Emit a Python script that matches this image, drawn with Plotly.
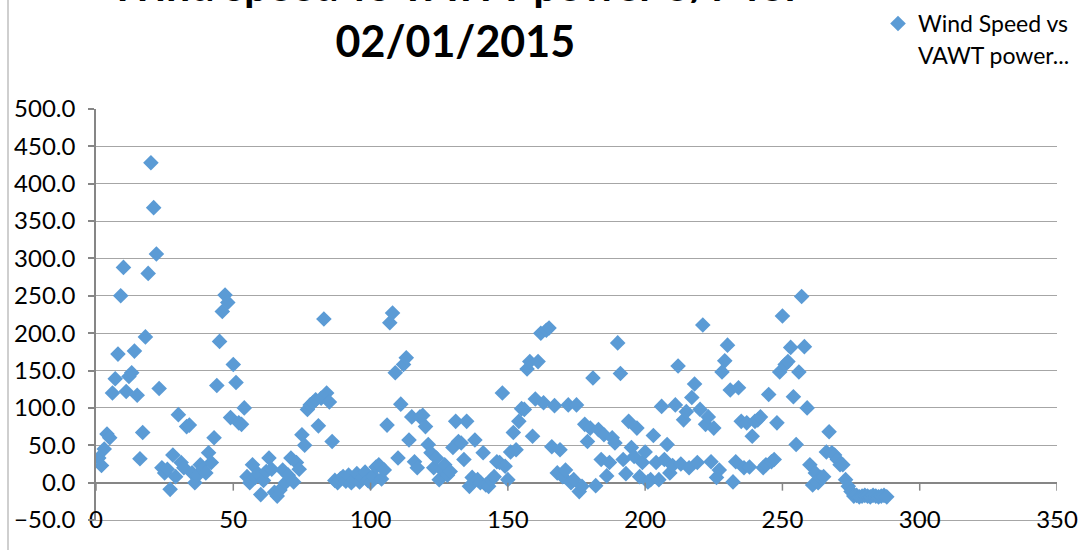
import plotly.graph_objects as go

# ---- data ----
title_lines = ["Wind speed vs VAWT power 8/7 for", "02/01/2015"]
legend_line1 = "Wind Speed vs"
legend_line2 = "VAWT power..."
power = [
    33, 23, 45, 65, 60, 120, 139, 172, 250, 288,
    122, 142, 147, 176, 117, 32, 67, 195, 280, 428,
    368, 306, 126, 20, 13, 18, -9, 37, 8, 91,
    27, 20, 75, 77, 13, 0, 10, 24, 18, 13,
    40, 27, 60, 130, 189, 229, 251, 241, 87, 158,
    134, 80, 78, 100, 8, 0, 24, 7, 12, -16,
    3, 15, 33, 18, -13, -18, -10, 17, 0, 10,
    33, 1, 27, 18, 64, 50, 98, 104, 107, 111,
    76, 113, 219, 120, 108, 55, 3, 0, 5, 8,
    2, 10, 0, 4, 12, 1, 7, 14, 3, 0,
    9, 21, 24, 5, 17, 77, 214, 227, 147, 33,
    105, 158, 167, 57, 88, 28, 20, 88, 90, 75,
    51, 40, 20, 33, 4, 17, 24, 10, 15, 47,
    82, 55, 53, 31, 82, -5, 7, 57, 4, 0,
    40, -3, -5, 4, 8, 28, 27, 120, 22, 4,
    41, 67, 44, 82, 99, 98, 152, 162, 62, 112,
    162, 200, 107, 204, 207, 48, 103, 13, 44, 8,
    17, 104, 0, 4, 104, -12, -5, 78, 55, 73,
    140, -4, 71, 31, 64, 9, 27, 60, 53, 187,
    146, 31, 12, 82, 47, 35, 73, 8, 27, 41,
    1, 4, 63, 27, 4, 102, 31, 51, 13, 23,
    104, 156, 25, 84, 95, 20, 114, 132, 27, 98,
    211, 78, 88, 28, 73, 7, 17, 148, 163, 184,
    124, 1, 28, 127, 82, 20, 80, 21, 62, 82,
    84, 88, 20, 24, 118, 28, 31, 80, 148, 223,
    158, 162, 181, 115, 51, 148, 249, 182, 100, 24,
    -3, 13, 0, 7, 8, 41, 68, 40, 37, 31,
    24, 24, 4, -5, -12, -18, -17, -19, -18, -17,
    -18, -19, -17, -18, -19, -18, -17, -19,
]
sample = list(range(1, len(power) + 1))
x_ticks = [0, 50, 100, 150, 200, 250, 300, 350]
y_ticks = [-50, 0, 50, 100, 150, 200, 250, 300, 350, 400, 450, 500]

FONT = "Lato"
BLUE = "#5B9BD5"
GRID = "#A6A6A6"
AXIS = "#868686"

# plot area in pixels
L, R, T, B = 96, 1057, 109, 520
PW, PH = R - L, B - T


def px_x(p):
    return (p - L) / PW


def px_y(p):
    return (B - p) / PH


fig = go.Figure()
fig.add_trace(go.Scatter(
    x=sample, y=power, mode="markers", name=legend_line1,
    marker=dict(symbol="diamond", size=12, color=BLUE, line=dict(width=0)),
    showlegend=True,
))

shapes = []
# downward tick marks on the x-axis line at y=0
for t in x_ticks:
    shapes.append(dict(type="line", xref="x", yref="y", x0=t, x1=t,
                       ysizemode="pixel", yanchor=0, y0=0, y1=-8,
                       line=dict(color=AXIS, width=1.5)))
# chart-area border on the left
shapes.append(dict(type="line", xref="paper", yref="paper",
                   x0=px_x(8), x1=px_x(8), y0=px_y(552), y1=px_y(-2),
                   line=dict(color="#BFBFBF", width=1.5)))

fig.update_layout(
    width=1080, height=550,
    margin=dict(l=L, r=1080 - R, t=T, b=550 - B, autoexpand=False),
    paper_bgcolor="white", plot_bgcolor="white",
    font=dict(family=FONT, size=24, color="black"),
    showlegend=True,
    legend=dict(x=px_x(878), y=px_y(2), xanchor="left", yanchor="top",
                font=dict(family=FONT, size=23, color="black"),
                valign="middle", bgcolor="rgba(0,0,0,0)", itemwidth=30),
    shapes=shapes,
    annotations=[
        dict(text="<b>" + "<br>".join(title_lines) + "</b>",
             xref="paper", yref="paper", x=px_x(455), y=px_y(68),
             xanchor="center", yanchor="bottom", showarrow=False,
             font=dict(family=FONT, size=43, color="black")),
        dict(text=legend_line2, xref="paper", yref="paper",
             x=px_x(916), y=px_y(55), xanchor="left", yanchor="middle",
             showarrow=False, font=dict(family=FONT, size=23, color="black")),
    ],
)
fig.update_xaxes(range=[0, 350], tickvals=x_ticks, showgrid=False, zeroline=False,
                 showline=True, linecolor=GRID, linewidth=1,
                 ticks="", ticklabelstandoff=-22, automargin=False,
                 tickfont=dict(family=FONT, size=24, color="black"))
fig.update_yaxes(range=[-50, 500], tickvals=y_ticks, tickformat=".1f",
                 showgrid=True, gridcolor=GRID, gridwidth=1,
                 zeroline=True, zerolinecolor=AXIS, zerolinewidth=1.5,
                 showline=True, linecolor=AXIS, linewidth=1.5,
                 ticks="outside", ticklen=6, tickcolor=AXIS, tickwidth=1.5,
                 ticklabelstandoff=8, automargin=False,
                 tickfont=dict(family=FONT, size=24, color="black"))

fig.write_html("out.html", config={"displayModeBar": False},
               post_script="document.body.style.margin='0';document.body.style.padding='0';")
